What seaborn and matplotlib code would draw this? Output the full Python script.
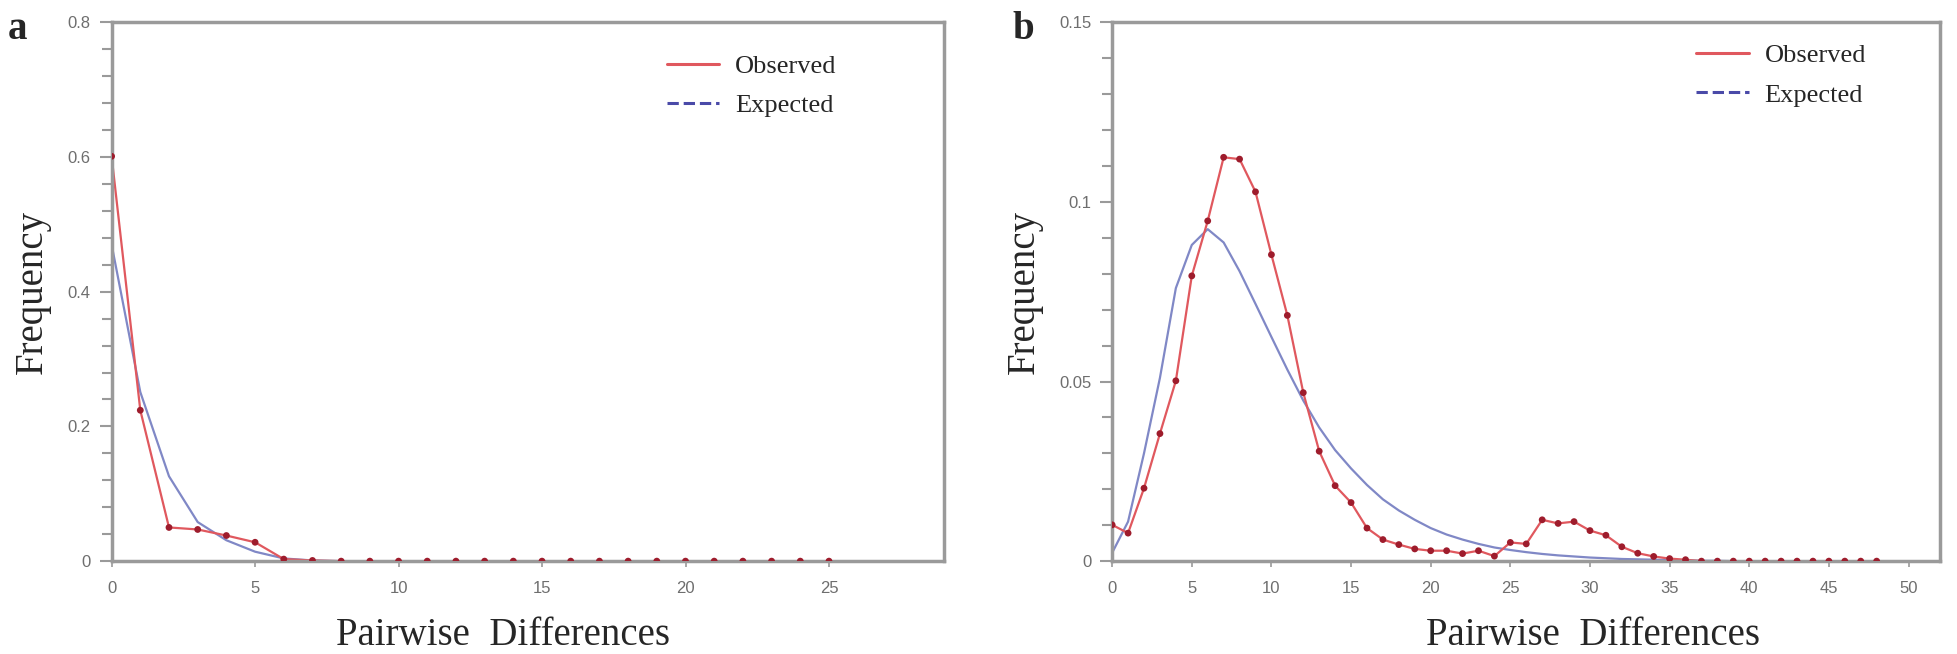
import matplotlib
matplotlib.use("Agg")
import matplotlib.pyplot as plt
import numpy as np
import pandas as pd
import seaborn as sns
from matplotlib.lines import Line2D
from matplotlib.ticker import MultipleLocator

# panel a : mismatch distribution
a_x = list(range(0, 26))
a_observed = [0.601, 0.224, 0.050, 0.047, 0.038, 0.028, 0.003, 0.001] + [0.0] * 18
a_expected = [0.470, 0.251, 0.126, 0.058, 0.031, 0.014, 0.004, 0.001] + [0.0] * 18
a_yticks = [0, 0.2, 0.4, 0.6, 0.8]
a_ylabels = ['0', '0.2', '0.4', '0.6', '0.8']
a_xticks = [0, 5, 10, 15, 20, 25]

# panel b
b_x = list(range(0, 49))
b_observed = [0.0101, 0.0078, 0.0203, 0.0355, 0.0502, 0.0794, 0.0947, 0.1124, 0.1119, 0.1028,
              0.0853, 0.0684, 0.0469, 0.0306, 0.0210, 0.0163, 0.0092, 0.0060, 0.0046, 0.0034,
              0.0029, 0.0029, 0.0021, 0.0029, 0.0014, 0.0052, 0.0048, 0.0115, 0.0105, 0.0110,
              0.0085, 0.0072, 0.0040, 0.0022, 0.0013, 0.0007, 0.0004] + [0.0] * 12
b_expected = [0.0023, 0.0110, 0.0300, 0.0510, 0.0760, 0.0880, 0.0924, 0.0887, 0.0807, 0.0716,
              0.0624, 0.0533, 0.0447, 0.0372, 0.0309, 0.0258, 0.0212, 0.0172, 0.0141, 0.0115,
              0.0092, 0.0074, 0.0060, 0.0048, 0.0038, 0.0031, 0.0025, 0.0020, 0.0016, 0.0013,
              0.0010, 0.0008, 0.0006, 0.0005, 0.0004, 0.0003, 0.0002, 0.0001, 0.0001] + [0.0] * 10
b_yticks = [0, 0.05, 0.1, 0.15]
b_ylabels = ['0', '0.05', '0.1', '0.15']
b_xticks = [0, 5, 10, 15, 20, 25, 30, 35, 40, 45, 50]

sns.set_style("white")
plt.rcParams['font.family'] = ['Liberation Serif', 'DejaVu Serif']

red = '#e0585e'
dot = '#9e1c2c'
blue = '#8088c6'
frame = '#9a9a9a'

fig = plt.figure(figsize=(19.58, 6.54), dpi=100)
ax_a = fig.add_axes([0.057, 0.142, 0.425, 0.824])
ax_b = fig.add_axes([0.568, 0.142, 0.423, 0.824])

panels = [
    (ax_a, a_x, a_observed, a_expected, a_yticks, a_ylabels, a_xticks, 0.04, (0, 29), (0, 0.8),
     (0.667, 0.94), 0.47),
    (ax_b, b_x, b_observed, b_expected, b_yticks, b_ylabels, b_xticks, 0.01, (0, 52), (0, 0.15),
     (0.705, 0.96), 0.58),
]

for ax, x, obs, exp, yt, yl, xt, minor, xlim, ylim, leg_pos, xlab_x in panels:
    df = pd.DataFrame({'x': x, 'Observed': obs, 'Expected': exp})
    sns.lineplot(data=df, x='x', y='Expected', ax=ax, color=blue, linewidth=1.6)
    sns.lineplot(data=df, x='x', y='Observed', ax=ax, color=red, linewidth=1.6)
    sns.scatterplot(data=df, x='x', y='Observed', ax=ax, color=dot, s=24, edgecolor='none', zorder=5)

    ax.set_xlim(*xlim)
    ax.set_ylim(*ylim)
    ax.set_xticks(xt)
    ax.set_xticklabels([str(v) for v in xt])
    ax.set_yticks(yt)
    ax.set_yticklabels(yl)
    ax.yaxis.set_minor_locator(MultipleLocator(minor))
    ax.tick_params(axis='both', which='both', direction='out', colors=frame,
                   labelcolor='#6e6e6e', labelsize=12, left=True, bottom=True)
    ax.tick_params(axis='y', which='major', length=9, width=1.5, pad=6)
    ax.tick_params(axis='y', which='minor', length=7, width=1.5)
    ax.tick_params(axis='x', which='major', length=4, width=1.2, pad=10)
    for lab in ax.get_xticklabels() + ax.get_yticklabels():
        lab.set_family(['Liberation Sans', 'DejaVu Sans'])
    for sp in ax.spines.values():
        sp.set_color(frame)
        sp.set_linewidth(2.5)

    ax.set_xlabel('Pairwise  Differences', fontsize=28)
    ax.xaxis.set_label_coords(xlab_x, -0.103)
    ax.set_ylabel('Frequency', fontsize=28, labelpad=12)

    handles = [Line2D([], [], color=red, lw=2.2),
               Line2D([], [], color='#4a4aa8', lw=2.2, ls='--')]
    ax.legend(handles, ['Observed', 'Expected'], loc='upper left', bbox_to_anchor=leg_pos,
              frameon=False, fontsize=19, borderpad=0, borderaxespad=0, handlelength=2.0,
              handletextpad=0.6, labelspacing=0.6)

fig.text(0.004, 0.94, 'a', fontsize=28, fontweight='bold')
fig.text(0.517, 0.94, 'b', fontsize=28, fontweight='bold')

fig.savefig('out.png', dpi=100)
